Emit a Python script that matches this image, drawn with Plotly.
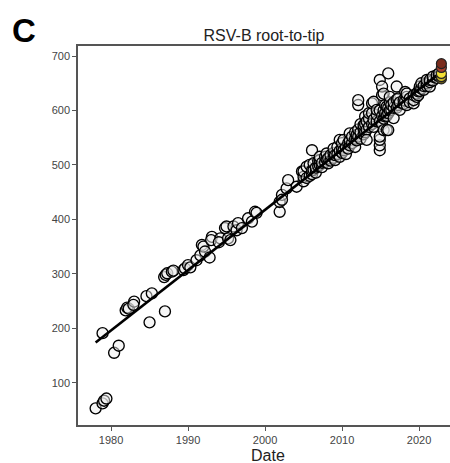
import plotly.graph_objects as go

# ---- data ----
# early / sparse samples
early_years = [1978.0, 1978.9, 1979.1, 1979.4, 1978.9, 1980.4, 1981.0, 1981.9, 1982.1, 1982.3,
               1983.0, 1982.9, 1984.6, 1985.3, 1985.0, 1987.0, 1986.9, 1987.1, 1987.3, 1987.9,
               1988.1, 1989.4, 1989.6, 1990.0, 1990.3, 1991.1, 1991.6, 1991.8, 1992.0, 1992.2,
               1992.8, 1993.1, 1993.0, 1994.2, 1994.0, 1994.8, 1995.0, 1995.2, 1995.5, 1995.9,
               1996.3, 1996.5, 1997.0, 1997.8, 1998.3, 1998.7, 1998.9,
               2001.9, 2001.9, 2002.2, 2002.2, 2002.8, 2003.0, 2004.1, 2004.8]
early_values = [53, 62, 67, 71, 191, 155, 168, 233, 238, 236,
                249, 243, 259, 264, 211, 231, 294, 298, 301, 304,
                306, 307, 310, 316, 312, 325, 334, 353, 350, 341,
                330, 368, 362, 365, 358, 384, 387, 365, 362, 387,
                380, 393, 384, 402, 396, 414, 412,
                414, 432, 445, 436, 457, 472, 460, 488]

# dense recent samples
recent_years = [2005.0, 2005.0, 2005.0, 2005.4, 2005.4, 2005.8, 2005.8, 2006.1, 2006.1, 2006.1,
                2006.3, 2006.3, 2006.6, 2006.6, 2006.9, 2006.9, 2007.1, 2007.1, 2007.1, 2007.4,
                2007.4, 2007.8, 2007.8, 2008.0, 2008.0, 2008.2, 2008.2, 2008.5, 2008.5, 2008.9,
                2008.9, 2008.9, 2009.1, 2009.1, 2009.4, 2009.4, 2009.7, 2009.7, 2009.7, 2010.0,
                2010.0, 2010.0, 2010.2, 2010.2, 2010.5, 2010.5, 2010.8, 2010.8, 2011.0, 2011.0,
                2011.0, 2011.3, 2011.3, 2011.7, 2011.7, 2011.7, 2011.9, 2011.9, 2012.1, 2012.1,
                2012.1, 2012.1, 2012.4, 2012.4, 2012.4, 2012.8, 2012.8, 2012.8, 2013.0, 2013.0,
                2013.0, 2013.2, 2013.2, 2013.2, 2013.5, 2013.5, 2013.5, 2013.9, 2013.9, 2013.9,
                2014.1, 2014.1, 2014.1, 2014.5, 2014.5, 2014.5, 2014.9, 2014.9, 2014.9, 2014.9,
                2014.9, 2014.9, 2014.9, 2015.2, 2015.2, 2015.2, 2015.2, 2015.4, 2015.4, 2015.4,
                2015.4, 2015.6, 2015.6, 2015.6, 2015.8, 2015.8, 2015.8, 2016.0, 2016.0, 2016.0,
                2016.0, 2016.2, 2016.2, 2016.2, 2016.4, 2016.4, 2016.7, 2016.7, 2016.7, 2017.1,
                2017.1, 2017.1, 2017.3, 2017.3, 2017.5, 2017.5, 2018.0, 2018.0, 2018.2, 2018.2,
                2018.4, 2018.4, 2018.4, 2018.8, 2018.8, 2019.3, 2019.3, 2019.3, 2019.7, 2019.7,
                2019.9, 2019.9, 2020.1, 2020.1, 2020.3, 2020.3, 2020.6, 2020.6, 2021.0, 2021.0,
                2021.0, 2021.4, 2021.4, 2021.4, 2021.8, 2021.8, 2022.3, 2022.3, 2022.6, 2022.6]
recent_values = [470, 478, 488, 476, 497, 480, 500, 483, 490, 527,
                 491, 503, 486, 495, 498, 507, 500, 509, 515, 496,
                 504, 505, 515, 510, 521, 503, 512, 508, 518, 513,
                 522, 530, 509, 518, 520, 533, 515, 526, 546, 522,
                 530, 540, 527, 546, 532, 520, 540, 530, 536, 545,
                 558, 540, 552, 533, 548, 560, 545, 555, 552, 565,
                 610, 619, 548, 560, 575, 556, 567, 573, 560, 575,
                 589, 565, 580, 546, 570, 585, 595, 575, 595, 613,
                 570, 583, 616, 580, 592, 601, 527, 536, 546, 552,
                 580, 600, 656, 575, 590, 628, 644, 564, 585, 600,
                 631, 589, 595, 610, 564, 590, 607, 564, 595, 605,
                 668, 600, 615, 625, 601, 610, 586, 605, 615, 605,
                 620, 644, 610, 622, 601, 615, 612, 619, 618, 634,
                 610, 625, 631, 622, 615, 613, 619, 628, 625, 631,
                 628, 635, 636, 644, 640, 650, 638, 645, 645, 650,
                 656, 644, 652, 656, 655, 662, 660, 665, 663, 668]

# newest, colour-coded samples
new_years = [2022.9, 2022.9, 2022.9, 2022.9, 2022.9]
new_values = [658, 662, 668, 679, 686]
new_colors = ["#6e5f1a", "#c9b52a", "#f2e034", "#a8402c", "#7a2c1c"]

# regression trend
trend_years = [1978.0, 2022.8]
trend_values = [174, 670]

x_ticks = [1980, 1990, 2000, 2010, 2020]
y_ticks = [100, 200, 300, 400, 500, 600, 700]

marker_style = dict(size=11, color="rgba(238,238,238,0.5)",
                    line=dict(color="black", width=1.35))

fig = go.Figure()
fig.add_trace(go.Scatter(x=early_years + recent_years, y=early_values + recent_values,
                         mode="markers", marker=marker_style, showlegend=False,
                         hoverinfo="skip"))
fig.add_trace(go.Scatter(x=trend_years, y=trend_values, mode="lines",
                         line=dict(color="black", width=2.6), showlegend=False))
fig.add_trace(go.Scatter(x=new_years, y=new_values, mode="markers",
                         marker=dict(size=10, color=new_colors,
                                     line=dict(color="#222", width=1.2)),
                         showlegend=False))

axis_common = dict(showgrid=False, zeroline=False, showline=True, linecolor="#555",
                   linewidth=1.6, ticks="outside", ticklen=4, tickwidth=1.2,
                   tickcolor="#555", tickfont=dict(family="Liberation Sans, Arial",
                                                   size=11, color="#444"))

fig.update_layout(
    width=450, height=463,
    margin=dict(l=78, r=0, t=46, b=38),
    plot_bgcolor="white", paper_bgcolor="white",
    font=dict(family="Liberation Sans, Arial", color="#222"),
    title=dict(text="RSV-B root-to-tip", x=0.5, xref="paper", xanchor="center",
               y=1 - 35 / 463, yanchor="middle", yref="container",
               font=dict(size=16, color="#222")),
    xaxis=dict(range=[1975.71, 2024.02], tickvals=x_ticks, mirror=True, **axis_common),
    yaxis=dict(range=[22.4, 718.4], tickvals=y_ticks, **axis_common),
    annotations=[
        dict(text="<b>C</b>", xref="paper", yref="paper", x=-0.145, y=1.042,
             xanchor="center", yanchor="middle", showarrow=False,
             font=dict(size=33, color="black", family="Liberation Sans, Arial")),
        dict(text="Date", xref="paper", yref="paper", x=(268 - 78) / 372,
             y=-(455 - 425) / 379, xanchor="center", yanchor="middle",
             showarrow=False, font=dict(size=16, color="#222")),
    ],
)

fig.write_html(
    "out.html",
    config={"displayModeBar": False},
    post_script="document.body.style.margin='0';document.body.style.overflow='hidden';",
)
